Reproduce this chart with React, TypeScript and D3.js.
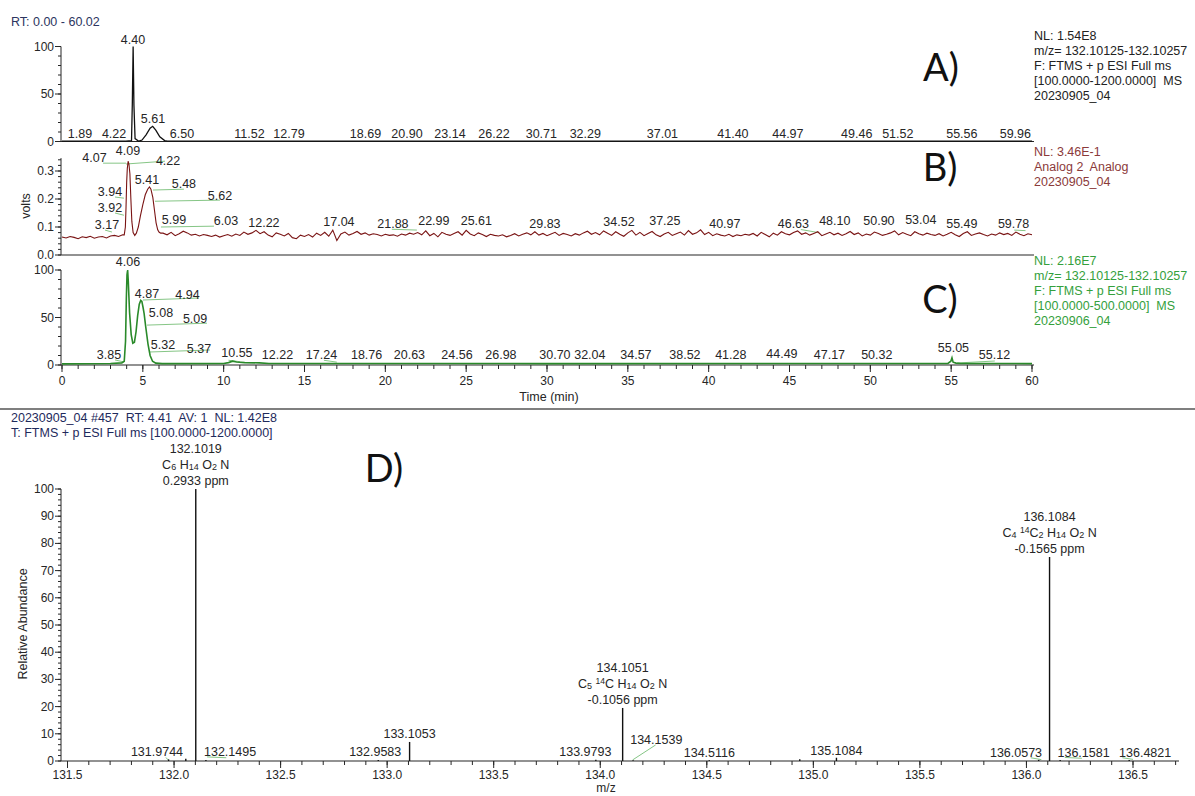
import React from "react";
import * as d3 from "d3";

const FONT = "'Liberation Sans', Arial, Helvetica, sans-serif";
const BIG = "Lato, 'Open Sans', sans-serif";
const INK = "#262626";

// ---------------- Panel A: XIC m/z 132.10125-132.10257 ----------------
const aTimes = [0, 1.89, 3.95, 4.3, 4.35, 4.4, 4.45, 4.52, 4.75, 4.95, 5.2, 5.45, 5.61, 5.8, 6.05, 6.35, 6.5, 12.79, 60];
const aIntensity = [0.3, 0.4, 0.4, 1, 40, 100, 38, 3, 0.3, 1.5, 7, 14, 16, 12, 5, 1, 0.4, 0.5, 0.3];
const aLabelText = ["4.40", "5.61", "1.89", "4.22", "6.50", "11.52", "12.79", "18.69", "20.90", "23.14", "26.22", "30.71", "32.29", "37.01", "41.40", "44.97", "49.46", "51.52", "55.56", "59.96"];
const aLabelT = [4.39, 5.63, 1.11, 3.22, 7.42, 11.6, 14.04, 18.77, 21.34, 24.0, 26.72, 29.65, 32.37, 37.14, 41.5, 44.9, 49.16, 51.7, 55.66, 58.97];
const aLabelV = [107, 24, 7.4, 7.4, 7.4, 7.4, 7.4, 7.4, 7.4, 7.4, 7.4, 7.4, 7.4, 7.4, 7.4, 7.4, 7.4, 7.4, 7.4, 7.4];
const aLegend = ["NL: 1.54E8", "m/z= 132.10125-132.10257", "F: FTMS + p ESI Full ms", "[100.0000-1200.0000]  MS", "20230905_04"];

// ---------------- Panel B: Analog 2 (volts) ----------------
const bPreStep = 0.25; // sampling from 0 min
const bPre = [0.064, 0.061, 0.066, 0.063, 0.058, 0.065, 0.062, 0.067, 0.060, 0.064, 0.066, 0.061, 0.068, 0.070, 0.066, 0.072];
const bPeakTimes = [3.85, 3.92, 3.96, 4.0, 4.04, 4.09, 4.14, 4.2, 4.26, 4.32, 4.4, 4.5, 4.6, 4.72, 4.85, 5.0, 5.15, 5.3, 5.41, 5.5, 5.62, 5.72, 5.82, 5.92, 6.0, 6.1];
const bPeakVolts = [0.072, 0.1, 0.17, 0.26, 0.31, 0.335, 0.325, 0.29, 0.2, 0.12, 0.08, 0.07, 0.078, 0.1, 0.14, 0.18, 0.215, 0.235, 0.243, 0.235, 0.205, 0.16, 0.115, 0.09, 0.082, 0.078];
const bPostStart = 6.25;
const bPost = [
  0.078, 0.072, 0.081, 0.069, 0.076, 0.085, 0.079, 0.071, 0.074, 0.068, 0.073, 0.070,
  0.066, 0.071, 0.064, 0.069, 0.073, 0.067, 0.075, 0.070, 0.082, 0.074, 0.079, 0.088,
  0.076, 0.083, 0.071, 0.065, 0.079, 0.074, 0.068, 0.077, 0.062, 0.058, 0.071, 0.066,
  0.073, 0.064, 0.078, 0.070, 0.081, 0.067, 0.089, 0.052, 0.075, 0.082, 0.071, 0.077,
  0.084, 0.074, 0.079, 0.071, 0.076, 0.073, 0.068, 0.074, 0.070, 0.072, 0.067, 0.075,
  0.071, 0.078, 0.074, 0.080, 0.072, 0.086, 0.069, 0.077, 0.065, 0.081, 0.074, 0.070,
  0.077, 0.083, 0.071, 0.088, 0.075, 0.069, 0.079, 0.073, 0.066, 0.074, 0.070, 0.068,
  0.072, 0.065, 0.070, 0.076, 0.068, 0.074, 0.079, 0.072, 0.083, 0.071, 0.077, 0.069,
  0.075, 0.081, 0.070, 0.077, 0.073, 0.068, 0.076, 0.071, 0.079, 0.085, 0.074, 0.080,
  0.072, 0.086, 0.078, 0.070, 0.083, 0.074, 0.067, 0.079, 0.088, 0.071, 0.081, 0.069,
  0.077, 0.084, 0.072, 0.066, 0.075, 0.081, 0.070, 0.076, 0.082, 0.071, 0.087, 0.074,
  0.079, 0.090, 0.073, 0.081, 0.069, 0.076, 0.071, 0.068, 0.074, 0.066, 0.072, 0.069,
  0.074, 0.071, 0.077, 0.068, 0.081, 0.073, 0.065, 0.078, 0.071, 0.083, 0.076, 0.072,
  0.080, 0.086, 0.074, 0.079, 0.071, 0.077, 0.083, 0.069, 0.075, 0.081, 0.072, 0.078,
  0.070, 0.076, 0.084, 0.073, 0.079, 0.068, 0.075, 0.071, 0.082, 0.077, 0.070, 0.074,
  0.079, 0.086, 0.072, 0.080, 0.074, 0.069, 0.083, 0.076, 0.071, 0.078, 0.073, 0.070,
  0.076, 0.068, 0.074, 0.081, 0.072, 0.066, 0.077, 0.083, 0.070, 0.075, 0.079, 0.073,
  0.068, 0.075, 0.071, 0.079, 0.073, 0.077, 0.070, 0.082, 0.074, 0.069, 0.076, 0.072,
];
const bLabelText = ["4.07", "4.09", "4.22", "3.94", "5.41", "5.48", "5.62", "3.92", "3.17", "5.99", "6.03", "12.22", "17.04", "21.88", "22.99", "25.61", "29.83", "34.52", "37.25", "40.97", "46.63", "48.10", "50.90", "53.04", "55.49", "59.78"];
const bLabelT = [2.01, 4.08, 6.56, 2.97, 5.26, 7.54, 9.77, 2.97, 2.78, 6.93, 10.14, 12.49, 17.13, 20.47, 23.0, 25.63, 29.87, 34.45, 37.29, 41.0, 45.24, 47.8, 50.53, 53.12, 55.66, 58.86];
const bLabelV = [0.345, 0.37, 0.336, 0.225, 0.268, 0.255, 0.21, 0.168, 0.107, 0.125, 0.121, 0.114, 0.118, 0.11, 0.121, 0.121, 0.11, 0.118, 0.121, 0.11, 0.11, 0.121, 0.121, 0.125, 0.11, 0.11];
const bLeaders: [number, number, number, number][] = [
  [2.54, 0.328, 3.96, 0.328], [3.96, 0.325, 6.37, 0.335], [3.28, 0.207, 3.83, 0.203],
  [3.28, 0.15, 3.83, 0.142], [5.63, 0.232, 7.54, 0.235], [5.75, 0.192, 9.77, 0.196],
  [6.12, 0.1, 9.4, 0.103], [20.4, 0.092, 21.95, 0.089], [2.66, 0.089, 3.09, 0.082],
  [45.7, 0.091, 46.8, 0.08], [58.9, 0.089, 59.6, 0.087],
];
const bLegend = ["NL: 3.46E-1", "Analog 2  Analog", "20230905_04"];

// ---------------- Panel C: XIC 20230906_04 ----------------
const cTimes = [0, 3.0, 3.7, 3.85, 3.93, 3.98, 4.02, 4.06, 4.1, 4.18, 4.28, 4.38, 4.48, 4.58, 4.68, 4.78, 4.87, 4.94, 5.02, 5.08, 5.18, 5.32, 5.45, 5.6, 5.8, 6.2, 10.0, 10.3, 10.55, 10.8, 11.3, 12.22, 12.8, 30, 54.8, 54.98, 55.05, 55.12, 55.3, 55.6, 60];
const cIntensity = [1.2, 1.5, 2.2, 4, 25, 70, 95, 100, 88, 55, 32, 23, 24, 35, 52, 64, 68, 67, 60, 54, 40, 22, 10, 4, 2, 1.5, 1.6, 2.5, 4, 3.2, 2.5, 2.2, 1.6, 1.5, 1.6, 4, 7.5, 3, 2, 1.6, 1.5];
const cLabelText = ["4.06", "4.87", "4.94", "5.08", "5.09", "5.32", "5.37", "3.85", "10.55", "12.22", "17.24", "18.76", "20.63", "24.56", "26.98", "30.70", "32.04", "34.57", "38.52", "41.28", "44.49", "47.17", "50.32", "55.05", "55.12"];
const cLabelT = [4.08, 5.26, 7.76, 6.12, 8.23, 6.25, 8.47, 2.91, 10.82, 13.33, 16.05, 18.84, 21.49, 24.43, 27.15, 30.49, 32.65, 35.5, 38.53, 41.37, 44.53, 47.47, 50.4, 55.14, 57.68];
const cLabelV = [108, 75, 74, 55, 48, 21, 17, 10.5, 12.6, 10.5, 10.5, 10.5, 10.5, 10.5, 10.5, 10.5, 10.5, 10.5, 10.5, 10.5, 11.6, 10.5, 10.5, 18, 10.5];
const cLeaders: [number, number, number, number][] = [
  [5.01, 68.4, 8.47, 70.5], [5.26, 42, 8.97, 44], [5.44, 13.7, 9.15, 15.8],
  [3.28, 5.3, 3.83, 3.2], [55.35, 2.1, 57.7, 4.2], [10.3, 5, 11.0, 3.5], [16.2, 5, 17.0, 3],
];
const cLegend = ["NL: 2.16E7", "m/z= 132.10125-132.10257", "F: FTMS + p ESI Full ms", "[100.0000-500.0000]  MS", "20230906_04"];

// ---------------- Panel D: mass spectrum ----------------
const dMz = [131.9744, 132.0551, 132.1019, 132.1495, 132.9583, 133.1053, 133.9793, 134.1051, 134.1539, 134.5116, 134.9362, 135.1084, 136.0573, 136.1084, 136.1581, 136.4821];
const dAbund = [0.6, 0.8, 100, 0.4, 0.4, 7, 0.5, 19.5, 0.3, 0.3, 0.6, 1.2, 0.4, 75, 0.4, 0.4];
const dLabelText = ["131.9744", "132.1495", "132.9583", "133.1053", "133.9793", "134.1539", "134.5116", "135.1084", "136.0573", "136.1581", "136.4821"];
const dLabelMz = [131.92, 132.263, 132.944, 133.105, 133.93, 134.263, 134.512, 135.108, 135.951, 136.268, 136.557];
const dLabelAb = [3.3, 3.3, 3.3, 10, 3.3, 7.7, 3.0, 3.7, 3.0, 3.0, 3.0];
const dLeaders: [number, number, number, number][] = [
  [134.152, 0.4, 134.26, 5.9], [132.155, 1.5, 132.245, 1.2], [131.962, 1.3, 131.972, 0.4],
  [136.02, 1.2, 136.07, 0.5], [136.18, 1.3, 136.26, 1.0], [136.45, 1.2, 136.5, 0.6],
];
// annotated ions
const dIonMz = [132.1019, 134.1051, 136.1084];
const dIonAb = [100, 19.5, 75];
const dIonText = ["132.1019", "134.1051", "136.1084"];
const dIonPpm = ["0.2933 ppm", "-0.1056 ppm", "-0.1565 ppm"];
// formula pieces: [text, kind] kind: n normal, sub subscript, sup superscript
const dIonFormula: [string, string][][] = [
  [["C", "n"], ["6", "sub"], [" H", "n"], ["14", "sub"], [" O", "n"], ["2", "sub"], [" N", "n"]],
  [["C", "n"], ["5", "sub"], [" ", "n"], ["14", "sup"], ["C H", "n"], ["14", "sub"], [" O", "n"], ["2", "sub"], [" N", "n"]],
  [["C", "n"], ["4", "sub"], [" ", "n"], ["14", "sup"], ["C", "n"], ["2", "sub"], [" H", "n"], ["14", "sub"], [" O", "n"], ["2", "sub"], [" N", "n"]],
];

// ---------------- scales ----------------
const tX = d3.scaleLinear().domain([0, 60]).range([62, 1032]);
const aY = d3.scaleLinear().domain([0, 100]).range([141.5, 46.5]);
const bY = d3.scaleLinear().domain([0, 0.3]).range([255, 171]);
const cY = d3.scaleLinear().domain([0, 100]).range([365, 270]);
const mzX = d3.scaleLinear().domain([131.5, 136.5]).range([67.5, 1133]);
const dY = d3.scaleLinear().domain([0, 100]).range([761, 489]);

function YAxis({ y, x0, top, majors, minors, fmt }: any) {
  return (
    <g stroke={INK} strokeWidth={1}>
      <line x1={x0} x2={x0} y1={y(0)} y2={y(top)} />
      {minors.map((v: number) => (
        <line key={"m" + v} x1={x0 - 3} x2={x0} y1={y(v)} y2={y(v)} />
      ))}
      {majors.map((v: number) => (
        <g key={"M" + v}>
          <line x1={x0 - 6} x2={x0} y1={y(v)} y2={y(v)} />
          <text x={x0 - 7} y={y(v)} stroke="none" fill={INK} fontSize={12} textAnchor="end" dominantBaseline="central">
            {fmt(v)}
          </text>
        </g>
      ))}
    </g>
  );
}

function Labels({ texts, xs, ys, x, y, fs = 12.5 }: any) {
  return (
    <g fill={INK} fontSize={fs}>
      {texts.map((t: string, i: number) => (
        <text key={i} x={x(xs[i])} y={y(ys[i])} textAnchor="middle" dominantBaseline="central">
          {t}
        </text>
      ))}
    </g>
  );
}

function Leaders({ segs, x, y }: any) {
  return (
    <g stroke="#86c686" strokeWidth={1}>
      {segs.map((s: number[], i: number) => (
        <line key={i} x1={x(s[0])} y1={y(s[1])} x2={x(s[2])} y2={y(s[3])} />
      ))}
    </g>
  );
}

function Legend({ lines, x, y0, dy, color }: any) {
  return (
    <g fill={color} fontSize={12.5}>
      {lines.map((l: string, i: number) => (
        <text key={i} x={x} y={y0 + i * dy} dominantBaseline="central" style={{ whiteSpace: "pre" }}>
          {l}
        </text>
      ))}
    </g>
  );
}

export default function App() {
  const aLine = d3.line<number>().x((_, i) => tX(aTimes[i])).y((v) => aY(v));
  const bPts: [number, number][] = [
    ...bPre.map((v, i) => [i * bPreStep, v] as [number, number]),
    ...bPeakTimes.map((t, i) => [t, bPeakVolts[i]] as [number, number]),
    ...bPost.map((v, i) => [bPostStart + i * bPreStep, v] as [number, number]),
  ];
  const bLine = d3.line<[number, number]>().x((d) => tX(d[0])).y((d) => bY(d[1]));
  const cLine = d3.line<number>().x((_, i) => tX(cTimes[i])).y((v) => cY(v));

  const tMajors = d3.range(0, 61, 5);
  const tMinors = d3.range(0, 61, 1);
  const mzMajors = d3.range(131.5, 136.51, 0.5);
  const mzMinors = d3.range(131.5, 136.71, 0.1);
  const axisEnd = tX(60) + 2;

  return (
    <div style={{ position: "fixed", left: 0, top: 0, width: 1195, height: 796, background: "#fff" }}>
      <svg width={1195} height={796} style={{ display: "block", fontFamily: FONT }}>
        <rect width={1195} height={796} fill="#fff" />
        <text x={11} y={22} fontSize={12.5} fill="#2c3560" dominantBaseline="central">RT: 0.00 - 60.02</text>

        {/* Panel A */}
        <YAxis y={aY} x0={61} top={100} majors={[0, 50, 100]} minors={d3.range(0, 101, 10)} fmt={(v: number) => String(v)} />
        <line x1={61} x2={axisEnd} y1={aY(0)} y2={aY(0)} stroke={INK} strokeWidth={1.2} />
        <path d={aLine(aIntensity) || ""} fill="none" stroke="#111" strokeWidth={1.3} />
        <Labels texts={aLabelText} xs={aLabelT} ys={aLabelV} x={tX} y={aY} />
        <text x={941} y={66} fontFamily={BIG} fontSize={38} fill="#111" textAnchor="middle" dominantBaseline="central">A)</text>
        <Legend lines={aLegend} x={1034} y0={36} dy={15} color="#222" />

        {/* Panel B */}
        <YAxis y={bY} x0={61} top={0.346} majors={[0, 0.1, 0.2, 0.3]} minors={d3.range(0, 0.341, 0.02)} fmt={(v: number) => v.toFixed(1)} />
        <line x1={61} x2={axisEnd} y1={bY(0)} y2={bY(0)} stroke={INK} strokeWidth={1.2} />
        <text transform="translate(26,206) rotate(-90)" fontSize={12.5} fill={INK} textAnchor="middle" dominantBaseline="central">volts</text>
        <Leaders segs={bLeaders} x={tX} y={bY} />
        <path d={bLine(bPts) || ""} fill="none" stroke="#7a1414" strokeWidth={1.1} />
        <Labels texts={bLabelText} xs={bLabelT} ys={bLabelV} x={tX} y={bY} />
        <text x={940} y={166} fontFamily={BIG} fontSize={38} fill="#111" textAnchor="middle" dominantBaseline="central">B)</text>
        <Legend lines={bLegend} x={1034} y0={152} dy={15} color="#8b3a3a" />

        {/* Panel C */}
        <YAxis y={cY} x0={61} top={100} majors={[0, 50, 100]} minors={d3.range(0, 101, 10)} fmt={(v: number) => String(v)} />
        <line x1={61} x2={axisEnd} y1={cY(0)} y2={cY(0)} stroke={INK} strokeWidth={1.2} />
        <g stroke={INK}>
          {tMinors.map((t) => (
            <line key={"tm" + t} x1={tX(t)} x2={tX(t)} y1={cY(0)} y2={cY(0) + 4} />
          ))}
          {tMajors.map((t) => (
            <line key={"tM" + t} x1={tX(t)} x2={tX(t)} y1={cY(0)} y2={cY(0) + 7} />
          ))}
        </g>
        <g fill={INK} fontSize={12}>
          {tMajors.map((t) => (
            <text key={"tl" + t} x={tX(t)} y={381} textAnchor="middle" dominantBaseline="central">{t}</text>
          ))}
        </g>
        <text x={549} y={397} fontSize={12.5} fill={INK} textAnchor="middle" dominantBaseline="central">Time (min)</text>
        <Leaders segs={cLeaders} x={tX} y={cY} />
        <path d={cLine(cIntensity) || ""} fill="none" stroke="#2a8a2a" strokeWidth={1.6} />
        <Labels texts={cLabelText} xs={cLabelT} ys={cLabelV} x={tX} y={cY} />
        <text x={940} y={298} fontFamily={BIG} fontSize={38} fill="#111" textAnchor="middle" dominantBaseline="central">C)</text>
        <Legend lines={cLegend} x={1034} y0={261} dy={15} color="#34a03c" />

        {/* separator */}
        <line x1={0} x2={1195} y1={409} y2={409} stroke="#555" strokeWidth={1.5} />

        {/* Panel D */}
        <text x={11} y={418} fontSize={12.5} fill="#1e2a5c" dominantBaseline="central" style={{ whiteSpace: "pre" }}>
          {"20230905_04 #457  RT: 4.41  AV: 1  NL: 1.42E8"}
        </text>
        <text x={11} y={433} fontSize={12.5} fill="#1e2a5c" dominantBaseline="central">
          T: FTMS + p ESI Full ms [100.0000-1200.0000]
        </text>
        <text x={384} y={467} fontFamily={BIG} fontSize={38} fill="#111" textAnchor="middle" dominantBaseline="central">D)</text>

        <YAxis y={dY} x0={61} top={100} majors={d3.range(0, 101, 10)} minors={d3.range(0, 101, 2)} fmt={(v: number) => String(v)} />
        <text transform="translate(23,624) rotate(-90)" fontSize={12.5} fill={INK} textAnchor="middle" dominantBaseline="central">Relative Abundance</text>
        <line x1={61} x2={mzX(136.716)} y1={dY(0)} y2={dY(0)} stroke={INK} strokeWidth={1.2} />
        <g stroke={INK}>
          {mzMinors.map((m) => (
            <line key={"dm" + m} x1={mzX(m)} x2={mzX(m)} y1={dY(0)} y2={dY(0) + 4} />
          ))}
          {mzMajors.map((m) => (
            <line key={"dM" + m} x1={mzX(m)} x2={mzX(m)} y1={dY(0)} y2={dY(0) + 7} />
          ))}
        </g>
        <g fill={INK} fontSize={12}>
          {mzMajors.map((m) => (
            <text key={"dl" + m} x={mzX(m)} y={775} textAnchor="middle" dominantBaseline="central">{m.toFixed(1)}</text>
          ))}
        </g>
        <text x={606} y={788} fontSize={12} fill={INK} textAnchor="middle" dominantBaseline="central">m/z</text>
        <Leaders segs={dLeaders} x={mzX} y={dY} />
        <g stroke="#111" strokeWidth={1.4}>
          {dMz.map((m, i) => (
            <line key={"pk" + i} x1={mzX(m)} x2={mzX(m)} y1={dY(0)} y2={dY(dAbund[i])} />
          ))}
        </g>
        <Labels texts={dLabelText} xs={dLabelMz} ys={dLabelAb} x={mzX} y={dY} />
        <g fill={INK} fontSize={12.5}>
          {dIonMz.map((m, i) => {
            const x = mzX(m);
            const top = dY(dIonAb[i]);
            return (
              <g key={"ion" + i}>
                <text x={x} y={top - 40} textAnchor="middle" dominantBaseline="central">{dIonText[i]}</text>
                <text x={x} y={top - 24} textAnchor="middle" dominantBaseline="central" style={{ whiteSpace: "pre" }}>
                  {dIonFormula[i].map(([s, k], j) =>
                    k === "n" ? (
                      <tspan key={j}>{s}</tspan>
                    ) : k === "sub" ? (
                      <tspan key={j} fontSize={9} baselineShift="-2">{s}</tspan>
                    ) : (
                      <tspan key={j} fontSize={8.5} baselineShift="3">{s}</tspan>
                    )
                  )}
                </text>
                <text x={x} y={top - 8} textAnchor="middle" dominantBaseline="central">{dIonPpm[i]}</text>
              </g>
            );
          })}
        </g>
      </svg>
    </div>
  );
}
